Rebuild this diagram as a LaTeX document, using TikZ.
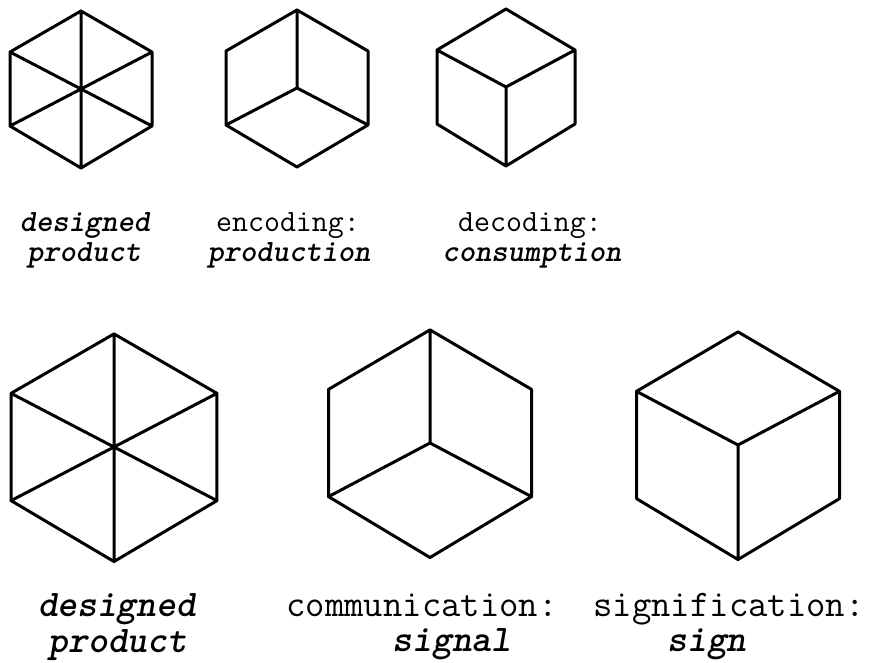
\documentclass[tikz,border=0pt]{standalone}

\tikzset{
  hexline/.style={line width=1.5pt,line join=round,line cap=round},
  uptop/.style={anchor=base,inner sep=0pt,font=\fontsize{15.5}{16}\selectfont\ttfamily},
  emtop/.style={uptop,font=\fontsize{15.5}{16}\selectfont\ttfamily\bfseries\slshape},
  upbot/.style={anchor=base,inner sep=0pt,font=\fontsize{18.8}{19}\selectfont\ttfamily},
  embot/.style={upbot,font=\fontsize{18.8}{19}\selectfont\ttfamily\bfseries\slshape}
}

\begin{document}
\begin{tikzpicture}[x=0.5pt,y=-0.5pt]
  \useasboundingbox (0,0) rectangle (880,663);
  % top row
  \begin{scope}[shift={(81,89)}]
    \coordinate (a-c) at (0,0);
    \coordinate (a-t) at (0,-78);
    \coordinate (a-ur) at (71,-37);
    \coordinate (a-lr) at (71,37);
    \coordinate (a-b) at (0,79);
    \coordinate (a-ll) at (-71,37);
    \coordinate (a-ul) at (-71,-37);
  \end{scope}
  \begin{scope}[shift={(297,88)}]
    \coordinate (b-c) at (0,0);
    \coordinate (b-t) at (0,-78);
    \coordinate (b-ur) at (71,-37);
    \coordinate (b-lr) at (71,37);
    \coordinate (b-b) at (0,79);
    \coordinate (b-ll) at (-71,37);
    \coordinate (b-ul) at (-71,-37);
  \end{scope}
  \begin{scope}[shift={(506,87)}]
    \coordinate (c-c) at (0,0);
    \coordinate (c-t) at (0,-78);
    \coordinate (c-ur) at (69,-37);
    \coordinate (c-lr) at (69,37);
    \coordinate (c-b) at (0,79);
    \coordinate (c-ll) at (-69,37);
    \coordinate (c-ul) at (-69,-37);
  \end{scope}
  \draw[hexline] (a-t)--(a-ur)--(a-lr)--(a-b)--(a-ll)--(a-ul)--cycle
    (a-t)--(a-b) (a-ul)--(a-lr) (a-ll)--(a-ur);
  \draw[hexline] (b-t)--(b-ur)--(b-lr)--(b-b)--(b-ll)--(b-ul)--cycle
    (b-t)--(b-c) (b-ll)--(b-c)--(b-lr);
  \draw[hexline] (c-t)--(c-ur)--(c-lr)--(c-b)--(c-ll)--(c-ul)--cycle
    (c-ul)--(c-c)--(c-ur) (c-c)--(c-b);
  \node[emtop] (prod-a) at (85,232) {designed};
  \node[emtop] (prod-b) at (84,262) {product};
  \node[uptop] (enc-a) at (288,232) {encoding:};
  \node[emtop] (enc-b) at (289,262) {production};
  \node[uptop] (dec-a) at (530,232) {decoding:};
  \node[emtop] (dec-b) at (532,262) {consumption};
  % bottom row
  \begin{scope}[shift={(114,447)},scale=1.45]
    \coordinate (d-c) at (0,0);
    \coordinate (d-t) at (0,-78);
    \coordinate (d-ur) at (71,-37);
    \coordinate (d-lr) at (71,37);
    \coordinate (d-b) at (0,79);
    \coordinate (d-ll) at (-71,37);
    \coordinate (d-ul) at (-71,-37);
  \end{scope}
  \begin{scope}[shift={(430,443)},scale=1.45]
    \coordinate (e-c) at (0,0);
    \coordinate (e-t) at (0,-78);
    \coordinate (e-ur) at (70,-37);
    \coordinate (e-lr) at (70,37);
    \coordinate (e-b) at (0,79);
    \coordinate (e-ll) at (-70,37);
    \coordinate (e-ul) at (-70,-37);
  \end{scope}
  \begin{scope}[shift={(738,445)},scale=1.45]
    \coordinate (f-c) at (0,0);
    \coordinate (f-t) at (0,-78);
    \coordinate (f-ur) at (70,-37);
    \coordinate (f-lr) at (70,37);
    \coordinate (f-b) at (0,79);
    \coordinate (f-ll) at (-70,37);
    \coordinate (f-ul) at (-70,-37);
  \end{scope}
  \draw[hexline] (d-t)--(d-ur)--(d-lr)--(d-b)--(d-ll)--(d-ul)--cycle
    (d-t)--(d-b) (d-ul)--(d-lr) (d-ll)--(d-ur);
  \draw[hexline] (e-t)--(e-ur)--(e-lr)--(e-b)--(e-ll)--(e-ul)--cycle
    (e-t)--(e-c) (e-ll)--(e-c)--(e-lr);
  \draw[hexline] (f-t)--(f-ur)--(f-lr)--(f-b)--(f-ll)--(f-ul)--cycle
    (f-ul)--(f-c)--(f-ur) (f-c)--(f-b);
  \node[embot] (prod-c) at (117,617) {designed};
  \node[embot] (prod-d) at (118,653) {product};
  \node[upbot] (com-a) at (422,617) {communication:};
  \node[embot] (com-b) at (452,652) {signal};
  \node[upbot] (sig-a) at (729,617) {signification:};
  \node[embot] (sig-b) at (707,652) {sign};
\end{tikzpicture}
\end{document}
